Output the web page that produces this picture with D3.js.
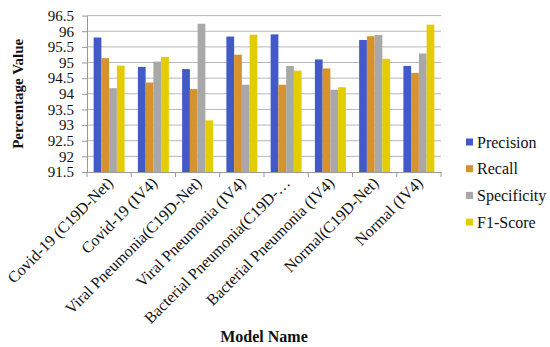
<!DOCTYPE html>
<html><head><meta charset="utf-8">
<script src="https://cdn.jsdelivr.net/npm/d3@7"></script>
<style>body{margin:0;background:#fff}svg{display:block}</style>
</head><body><svg id="c" width="550" height="347"></svg>
<script>
const categories = ["Covid-19 (C19D-Net)","Covid-19 (IV4)","Viral Pneumonia(C19D-Net)","Viral Pneumonia (IV4)","Bacterial Pneumonia(C19D-…","Bacterial Pneumonia (IV4)","Normal(C19D-Net)","Normal (IV4)"];
const seriesNames = ["Precision","Recall","Specificity","F1-Score"];
const precision   = [95.80,94.86,94.79,95.83,95.90,95.10,95.72,94.89];
const recall      = [95.14,94.36,94.15,95.25,94.29,94.81,95.84,94.67];
const specificity = [94.18,95.03,96.24,94.29,94.89,94.13,95.88,95.29];
const f1score     = [94.90,95.18,93.15,95.89,94.74,94.21,95.12,96.21];
const yTicks = [91.5,92,92.5,93,93.5,94,94.5,95,95.5,96,96.5];
const colors = ["#4259c8","#d6922c","#a8a8a8","#e2cd00"];
const seriesVals = [precision, recall, specificity, f1score];

const FONT = '"Liberation Serif", "Times New Roman", Tinos, "DejaVu Serif", serif';
const svg = d3.select("#c");
const L=87, R=441, T=15.6, B=172;
const x = d3.scaleBand().domain(categories).range([L,R]).paddingInner(0.3).paddingOuter(0.15);
const x0 = d3.scaleBand().domain(categories).range([L,R]).padding(0);
const xs = d3.scaleBand().domain(seriesNames).range([0,x.bandwidth()]);
const y = d3.scaleLinear().domain([91.5,96.5]).range([B,T]);

svg.append("g").selectAll("line").data(yTicks.slice(1)).join("line")
  .attr("x1",L).attr("x2",R).attr("y1",d=>y(d)).attr("y2",d=>y(d))
  .attr("stroke","#b8b8b8").attr("stroke-width",1);

const g = svg.append("g");
seriesVals.forEach((vals,si)=>{
  g.selectAll(null).data(vals).join("rect")
    .attr("x",(d,i)=>x(categories[i])+xs(seriesNames[si]))
    .attr("width",xs.bandwidth())
    .attr("y",d=>y(d)).attr("height",d=>B-y(d))
    .attr("fill",colors[si]);
});

const ya = svg.append("g").attr("transform",`translate(${L},0)`)
  .call(d3.axisLeft(y).tickValues(yTicks).tickFormat(d=>String(d)).tickSizeInner(5).tickSizeOuter(0).tickPadding(8));
ya.select(".domain").attr("stroke","#999");
ya.selectAll(".tick line").attr("stroke","#999");
ya.selectAll("text").style("font-family",FONT).style("font-size","15px").attr("fill","#111");

const xa = svg.append("g").attr("transform",`translate(0,${B})`)
  .call(d3.axisBottom(x0).tickSize(0).tickFormat(""));
xa.select(".domain").attr("stroke","#999");
svg.append("g").selectAll("line").data(categories.concat(["_end"])).join("line")
  .attr("x1",(d,i)=>L+i*x0.step()).attr("x2",(d,i)=>L+i*x0.step())
  .attr("y1",B).attr("y2",B+5).attr("stroke","#999");

svg.append("g").selectAll("text").data(categories).join("text")
  .attr("transform",d=>`translate(${x0(d)+x0.bandwidth()/2+5},${B+12}) rotate(-45)`)
  .attr("text-anchor","end").style("font-family",FONT).style("font-size","16px").attr("fill","#111")
  .text(d=>d);

svg.append("text").attr("transform",`translate(23,${(T+B)/2}) rotate(-90)`)
  .attr("text-anchor","middle").style("font-family",FONT).style("font-weight","bold").style("font-size","15px")
  .attr("fill","#111").text("Percentage Value");
svg.append("text").attr("x",(L+R)/2).attr("y",342)
  .attr("text-anchor","middle").style("font-family",FONT).style("font-weight","bold").style("font-size","16px")
  .attr("fill","#111").text("Model Name");

const lg = svg.append("g").selectAll("g").data(seriesNames).join("g")
  .attr("transform",(d,i)=>`translate(466,${142+i*26.7})`);
lg.append("rect").attr("x",0).attr("y",-3.5).attr("width",7).attr("height",7).attr("fill",(d,i)=>colors[i]);
lg.append("text").attr("x",11).attr("y",5.5).style("font-family",FONT).style("font-size","16px").attr("fill","#111").text(d=>d);
</script></body></html>
